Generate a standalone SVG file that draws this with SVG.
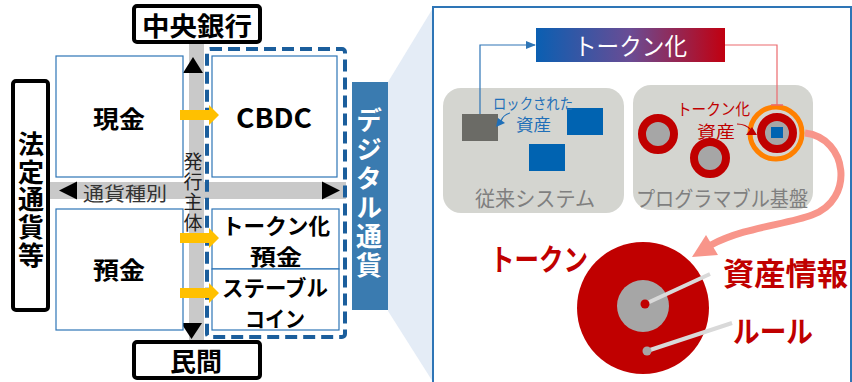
<svg xmlns="http://www.w3.org/2000/svg" width="852" height="382" viewBox="0 0 852 382">
<defs>
<style>
text{font-family:"Noto Sans CJK JP","Noto Sans",sans-serif;}
.b{font-weight:700;}
.bx{fill:#fff;stroke:#2e75b6;stroke-width:1.2;}
.lbl{fill:#fff;stroke:#000;stroke-width:4;}
.yel{fill:#ffc000;}
.gbar{fill:#c9c9c9;}
.red{fill:#c00000;}
.ring{fill:#a6a6a6;stroke:#c00000;stroke-width:8;}
.vt{writing-mode:vertical-rl;text-orientation:upright;}
</style>
<linearGradient id="grad" x1="0" y1="0" x2="1" y2="0">
<stop offset="0" stop-color="#0a5fb2"/>
<stop offset="0.5" stop-color="#6a4c94"/>
<stop offset="1" stop-color="#c10010"/>
</linearGradient>
<marker id="ab" markerWidth="10" markerHeight="8" refX="9" refY="4" orient="auto" markerUnits="userSpaceOnUse">
<path d="M0,0 L10,4 L0,8 Z" fill="#2e75b6"/>
</marker>
</defs>
<rect width="852" height="382" fill="#fff"/>

<!-- light blue zoom trapezoid -->
<polygon points="388,82 433,8 433,382 388,311" fill="#e4ecf6"/>

<!-- axes -->
<g id="axes">
<rect class="gbar" x="189" y="43" width="15" height="298"/>
<rect class="gbar" x="50" y="182" width="296" height="17"/>
<polygon points="183,73 203,73 193,57" fill="#000"/>
<polygon points="181,323 202,323 191.5,339" fill="#000"/>
<polygon points="59,190.5 77,181.5 77,199.5" fill="#000"/>
<polygon points="340,190.5 322,181.5 322,199.5" fill="#000"/>
<text x="83" y="201" font-size="19" fill="#333" textLength="84" lengthAdjust="spacingAndGlyphs">通貨種別</text>
<text class="vt" x="193" y="152" font-size="19" fill="#222" letter-spacing="1.3">発行主体</text>
</g>

<g id="n-chuo">
<rect class="lbl" x="134" y="6" width="126" height="36" rx="3"/>
<text class="b" x="142" y="35.5" font-size="26" textLength="110" lengthAdjust="spacingAndGlyphs">中央銀行</text>
</g>
<g id="n-minkan">
<rect class="lbl" x="134" y="342" width="126" height="36" rx="3"/>
<text class="b" x="170" y="370.5" font-size="26" textLength="52" lengthAdjust="spacingAndGlyphs">民間</text>
</g>
<g id="n-hotei">
<rect class="lbl" x="13" y="81" width="35" height="229" rx="3"/>
<text class="b vt" x="31" y="131" font-size="26" letter-spacing="1.8">法定通貨等</text>
</g>

<g id="n-genkin">
<rect class="bx" x="56" y="56" width="127" height="121"/>
<text class="b" x="93" y="127.5" font-size="24" textLength="52" lengthAdjust="spacingAndGlyphs">現金</text>
</g>
<g id="n-yokin">
<rect class="bx" x="56" y="209" width="127" height="121"/>
<text class="b" x="93" y="278.5" font-size="24" textLength="52" lengthAdjust="spacingAndGlyphs">預金</text>
</g>

<rect x="207" y="49" width="138" height="288" rx="3" fill="none" stroke="#1b5e9c" stroke-width="4" stroke-dasharray="12 6"/>

<g id="n-cbdc">
<rect class="bx" x="212" y="56" width="125" height="121"/>
<text class="b" x="236" y="128" font-size="27" textLength="76" lengthAdjust="spacingAndGlyphs">CBDC</text>
</g>
<g id="n-tokenyokin">
<rect class="bx" x="212" y="209" width="127" height="60"/>
<text class="b" x="222" y="234" font-size="22" textLength="108" lengthAdjust="spacingAndGlyphs">トークン化</text>
<text class="b" x="250" y="265" font-size="22" textLength="52" lengthAdjust="spacingAndGlyphs">預金</text>
</g>
<g id="n-stable">
<rect class="bx" x="212" y="269" width="127" height="61"/>
<text class="b" x="222" y="296" font-size="22" textLength="106" lengthAdjust="spacingAndGlyphs">ステーブル</text>
<text class="b" x="245" y="327" font-size="22" textLength="60" lengthAdjust="spacingAndGlyphs">コイン</text>
</g>

<g id="n-digital">
<rect x="352" y="82" width="36" height="228" fill="#3a7bb0"/>
<text class="b vt" x="369" y="107" font-size="26" fill="#fff" letter-spacing="3">デジタル通貨</text>
</g>

<!-- right panel -->
<g id="panel">
<rect x="433" y="7" width="418" height="380" fill="#fff" stroke="#2e75b6" stroke-width="2"/>
</g>

<g id="n-tokenize">
<rect x="536" y="28" width="189" height="34" fill="url(#grad)"/>
<text x="574" y="55" font-size="24" fill="#fff" textLength="113" lengthAdjust="spacingAndGlyphs">トークン化</text>
</g>

<g id="n-legacy">
<rect x="443" y="88" width="181" height="125" rx="18" fill="#d4d5d0"/>
<rect x="462" y="114" width="36" height="27" fill="#6b6b66"/>
<rect x="567" y="108" width="36" height="27" fill="#0063b1"/>
<rect x="529" y="144" width="36" height="27" fill="#0063b1"/>
<text x="493" y="109" font-size="15" fill="#1f6fb8" textLength="80" lengthAdjust="spacingAndGlyphs">ロックされた</text>
<text x="516" y="131" font-size="17" fill="#1f6fb8" textLength="35" lengthAdjust="spacingAndGlyphs">資産</text>
<path d="M510,113 Q503,115 501,121" fill="none" stroke="#1f6fb8" stroke-width="1.2"/>
<polygon points="496,127 498,118 505,123" fill="#1f6fb8"/>
<text x="475" y="206" font-size="21" fill="#7f7f7f" textLength="120" lengthAdjust="spacingAndGlyphs">従来システム</text>
</g>

<g id="n-programmable">
<rect x="633" y="85" width="180" height="125" rx="18" fill="#d4d5d0"/>
<circle class="ring" cx="658" cy="134" r="16"/>
<circle class="ring" cx="710" cy="158" r="16"/>
<circle cx="776" cy="133" r="26" fill="none" stroke="#ff8000" stroke-width="5"/>
<circle class="ring" cx="777" cy="133" r="16"/>
<rect x="771" y="127" width="12" height="11" fill="#0063b1"/>
<text x="677" y="115" font-size="16" fill="#c00000" textLength="73" lengthAdjust="spacingAndGlyphs">トークン化</text>
<text x="697" y="138" font-size="17" fill="#c00000" textLength="38" lengthAdjust="spacingAndGlyphs">資産</text>
<path d="M737,124 Q746,124 751,130" fill="none" stroke="#c00000" stroke-width="1.2"/>
<polygon points="746,135 757,135 752,127" fill="#c00000"/>
<text x="636" y="206" font-size="21" fill="#7f7f7f" textLength="172" lengthAdjust="spacingAndGlyphs">プログラマブル基盤</text>
</g>

<g id="n-token">
<circle cx="643" cy="308" r="66" fill="#c00000"/>
<circle cx="643" cy="306" r="26" fill="#a6a6a6"/>
<line x1="645" y1="304" x2="710" y2="274" stroke="#d9d9d9" stroke-width="4"/>
<circle cx="645" cy="304" r="4.5" fill="#c00000"/>
<line x1="647" y1="351" x2="732" y2="323" stroke="#d9d9d9" stroke-width="4"/>
<circle cx="647" cy="351" r="4.5" fill="#a6a6a6"/>
<text class="b red" x="490" y="270" font-size="30" textLength="98" lengthAdjust="spacingAndGlyphs">トークン</text>
<text class="b red" x="723" y="285" font-size="31" textLength="125" lengthAdjust="spacingAndGlyphs">資産情報</text>
<text class="b red" x="733" y="342" font-size="30" textLength="80" lengthAdjust="spacingAndGlyphs">ルール</text>
</g>

<!-- connectors -->
<g id="connectors">
<polygon class="yel" points="180,110 209,110 209,105 219,115 209,125 209,120 180,120"/>
<polygon class="yel" points="180,233 209,233 209,228 219,238 209,248 209,243 180,243"/>
<polygon class="yel" points="180,288 209,288 209,283 219,293 209,303 209,298 180,298"/>
<polyline points="480,114 480,45 535,45" fill="none" stroke="#2e75b6" stroke-width="1.2" marker-end="url(#ab)"/>
<polyline points="725,45 777,45 777,105" fill="none" stroke="#ec6a6e" stroke-width="1.2"/>
<line x1="771" y1="105" x2="783" y2="105" stroke="#ec6a6e" stroke-width="1.5"/>
<path d="M805,133 C848,138 855,200 812,215 C785,225 745,227 711,245" fill="none" stroke="#f8958a" stroke-width="7"/>
<polygon points="692,257 706,235 718,255" fill="#f8958a"/>
</g>
</svg>
